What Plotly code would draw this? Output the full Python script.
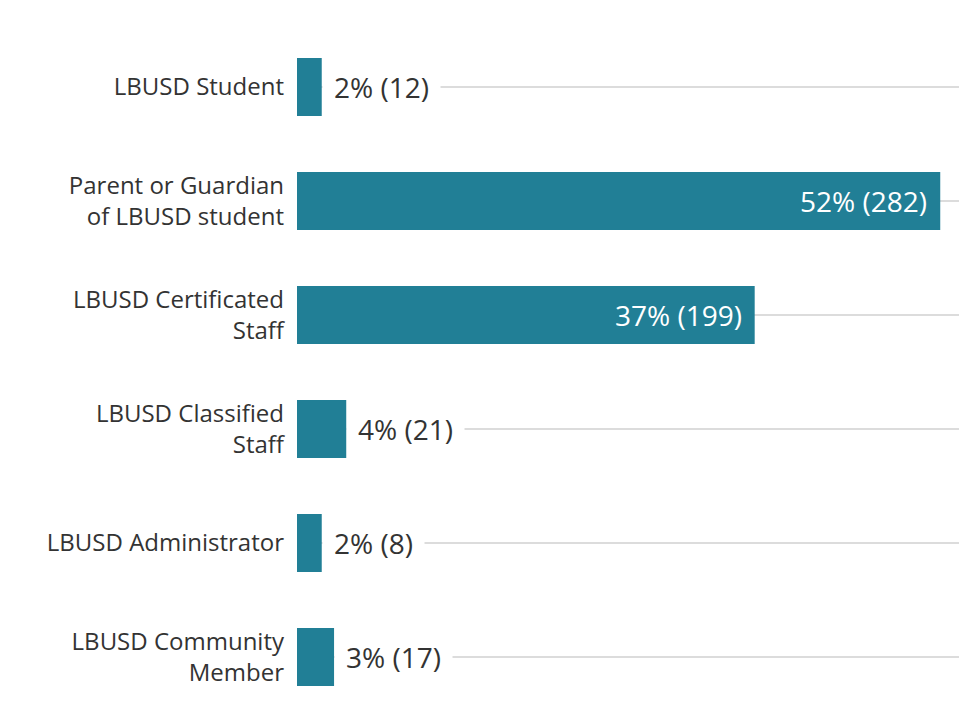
import plotly.graph_objects as go

categories = [
    "LBUSD Student",
    "Parent or Guardian<br>of LBUSD student",
    "LBUSD Certificated<br>Staff",
    "LBUSD Classified<br>Staff",
    "LBUSD Administrator",
    "LBUSD Community<br>Member",
]
percents = [2, 52, 37, 4, 2, 3]
counts = [12, 282, 199, 21, 8, 17]

BAR_COLOR = "#217f96"
TEXT_COLOR = "#333333"
FONT = "'Open Sans', Lato, sans-serif"

fig = go.Figure()
fig.add_trace(go.Bar(
    y=categories,
    x=percents,
    orientation="h",
    marker=dict(color=BAR_COLOR, line=dict(width=0)),
    hoverinfo="skip",
))

annotations = []
for cat, p, c in zip(categories, percents, counts):
    label = f"{p}% ({c})"
    if p >= 20:
        annotations.append(dict(
            x=p, y=cat, xref="x", yref="y", text=label, showarrow=False,
            xanchor="right", yanchor="middle", xshift=-11,
            font=dict(family=FONT, size=28, color="white"),
        ))
    else:
        annotations.append(dict(
            x=p, y=cat, xref="x", yref="y", text=label, showarrow=False,
            xanchor="left", yanchor="middle", xshift=0,
            bgcolor="white", borderpad=11,
            font=dict(family=FONT, size=28, color=TEXT_COLOR),
        ))

# the page adds an 8px body margin, so the figure is 8px smaller
fig.update_layout(
    width=959, height=717,
    margin=dict(l=289, r=0, t=22, b=11),
    paper_bgcolor="white",
    plot_bgcolor="white",
    showlegend=False,
    bargap=0.49,
    font=dict(family=FONT, size=24, color=TEXT_COLOR),
    annotations=annotations,
    xaxis=dict(range=[0, 670 / 12.37], visible=False, fixedrange=True),
    yaxis=dict(
        autorange="reversed", showgrid=True, gridcolor="#dcdcdc", gridwidth=1.5,
        zeroline=False, showline=False, ticks="", ticklabelstandoff=12,
        tickfont=dict(family=FONT, size=24, color=TEXT_COLOR),
        fixedrange=True,
    ),
)

fig.write_html("out.html", config={"displayModeBar": False})
